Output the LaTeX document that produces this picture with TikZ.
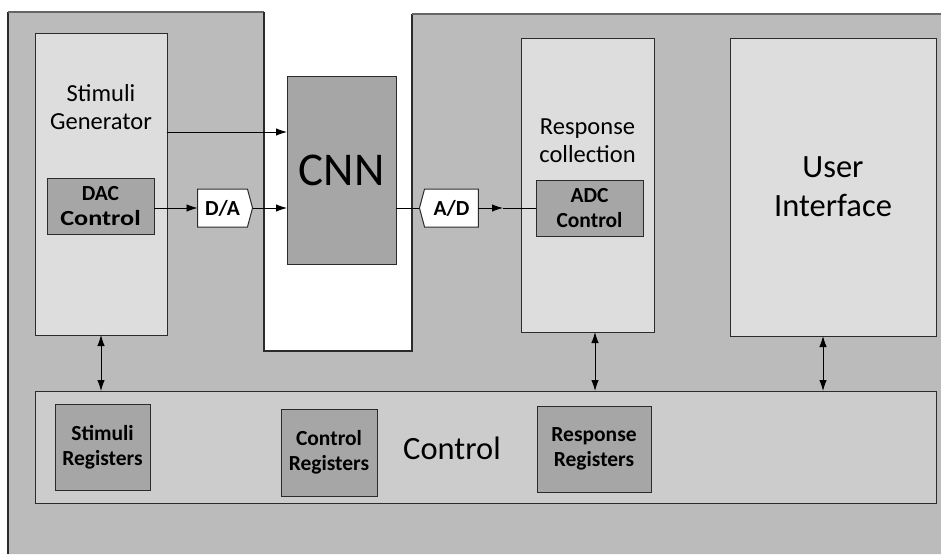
\documentclass[tikz,border=0pt]{standalone}
\usepackage{graphicx}
\usepackage{fontspec}
\setmainfont{Carlito}
\usetikzlibrary{arrows.meta,shapes.symbols}
\definecolor{outerfill}{HTML}{BBBBBB}
\definecolor{lightfill}{HTML}{DDDDDD}
\definecolor{barfill}{HTML}{CCCCCC}
\definecolor{darkfill}{HTML}{A6A6A6}
\definecolor{edge}{HTML}{2B2B2B}
\definecolor{topedge}{HTML}{666666}
\begin{document}
\begin{tikzpicture}[x=1pt,y=-1pt,
 blk/.style={draw=edge,line width=1pt,inner sep=0pt,outer sep=0pt,anchor=north west},
 light/.style={blk,fill=lightfill},
 dark/.style={blk,fill=darkfill,align=center,font=\bfseries\fontsize{21.5}{25}\selectfont},
 conv/.style={signal,draw=edge,fill=white,line width=1pt,inner sep=0pt,outer sep=0pt,minimum height=38pt,signal pointer angle=150,font=\bfseries\fontsize{21.5}{25}\selectfont},
 arr/.style={line width=0.9pt,-{Latex[length=11pt,width=7.5pt]}},
 plain/.style={line width=0.9pt},
 darr/.style={line width=0.9pt,{Latex[length=11pt,width=7.5pt]}-{Latex[length=11pt,width=7.5pt]}},
 lbl/.style={align=center,inner sep=0pt}]

\useasboundingbox (0,0) rectangle (941,554);
\fill[outerfill] (8,12) -- (264,12) -- (264,351) -- (412,351) -- (412,14) -- (941,14) -- (941,554) -- (8,554) -- cycle;
\draw[edge,line width=1.2pt] (8,554) -- (8,12);
\draw[topedge,line width=1.2pt] (8,12) -- (264,12);
\draw[edge,line width=1.2pt] (264,12) -- (264,351) -- (412,351) -- (412,14);
\draw[topedge,line width=1.2pt] (412,14) -- (941,14);

% left block
\node[light,minimum width=132pt,minimum height=302pt] (SG) at (35,33) {};
\node[lbl,font=\fontsize{24.5}{27.5}\selectfont] (SGt) at (101,107) {Stimuli\\Generator};
\node[dark,minimum width=107pt,minimum height=56pt] (DAC) at (47,178) {DAC\\\scalebox{1.22}[1]{Control}};

% CNN
\node[dark,minimum width=109pt,minimum height=188pt,font=\fontsize{47}{52}\selectfont] (CNN) at (287,76) {CNN};

% converters
\node[conv,signal to=east,minimum width=55pt] (DA) at (222.5,208) {D/A};
\node[conv,signal to=west,minimum width=59pt] (AD) at (451.5,208) {A/D};

% response collection
\node[light,minimum width=133pt,minimum height=294pt] (RC) at (521,38) {};
\node[lbl,font=\fontsize{24.5}{28}\selectfont] (RCt) at (587.5,141) {Response\\collection};
\node[dark,minimum width=107pt,minimum height=56pt] (ADC) at (536,180) {ADC\\Control};

% user interface
\node[light,minimum width=206pt,minimum height=298pt,align=center,font=\fontsize{32.5}{39}\selectfont] (UI) at (730,38) {User\\Interface};

% control bar
\node[blk,fill=barfill,minimum width=901pt,minimum height=112pt] (CB) at (35,391) {};
\node[lbl,font=\fontsize{32.5}{36}\selectfont] (CBt) at (452,448) {Control};
\node[dark,minimum width=95pt,minimum height=86pt] (SR) at (55,404) {Stimuli\\Registers};
\node[dark,minimum width=96pt,minimum height=87pt] (CR) at (281,409) {Control\\Registers};
\node[dark,minimum width=114pt,minimum height=86pt] (RR) at (537,406) {Response\\Registers};

% connectors
\coordinate (sgout) at (167,132);
\draw[arr] (sgout) -- (sgout -| CNN.west);
\draw[arr] (DAC.east |- DA.west) -- (DA.west);
\draw[arr] (DA.east) -- (DA.east -| CNN.west);
\draw[plain] (CNN.east |- AD.west) -- (AD.west);
\coordinate (admid) at (503,208);
\draw[arr] (AD.east) -- (admid);
\draw[plain] (admid) -- (admid -| ADC.west);

\draw[darr] (SG.south) -- (SG.south |- CB.north);
\coordinate (rcx) at (595,0);
\draw[darr] (rcx |- RC.south) -- (rcx |- CB.north);
\coordinate (uix) at (823,0);
\draw[darr] (uix |- UI.south) -- (uix |- CB.north);
\end{tikzpicture}
\end{document}
